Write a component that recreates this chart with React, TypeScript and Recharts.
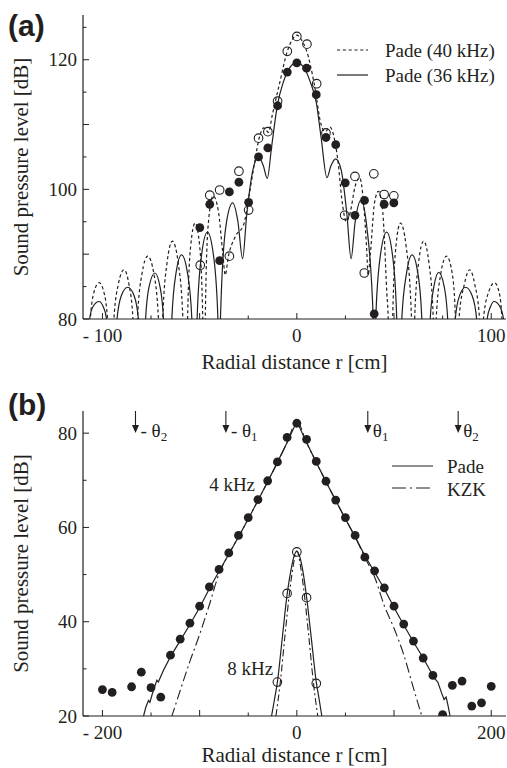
import React from "react";
import { ComposedChart, Line, Scatter, XAxis, YAxis, Legend } from "recharts";

const INK = "#231f20";
const SERIF = '"Liberation Serif", "DejaVu Serif", "Noto Serif", serif';
const SANS = '"Liberation Sans", Arial, Helvetica, sans-serif';

type Pt = [number, number];
const rows = (pts: Pt[]) => pts.map(([r, db]) => ({ r, db }));

// ---------- panel (a): 36 / 40 kHz radial profiles
const A_XDOMAIN = [-110, 107.6];
const A_YDOMAIN = [80, 126.9];
const aXTicks = [-100, -75, -50, -25, 0, 25, 50, 75, 100];
const aXLabels: Record<string, string> = { "-100": "- 100", "0": "0", "100": "100" };
const aYTicksLeft = [80, 85, 90, 95, 100, 105, 110, 115, 120, 125];
const aYTicksRight = [80, 90, 100, 110, 120];
const aYLabels: Record<string, string> = { "80": "80", "100": "100", "120": "120" };

const pade40: Pt[] = [
  [-109.5, 50], [-106.2, 80], [-104.3, 84.2], [-101.7, 85.6], [-99.3, 84.2], [-97.4, 80], [-95.7, 50],
  [-94.1, 80], [-91.8, 85.4], [-88.9, 87.6], [-86.4, 85.4], [-84.3, 80], [-83.2, 50],
  [-82, 80], [-79.7, 86.9], [-76.7, 89.7], [-73.5, 86.9], [-71.2, 80], [-70.1, 50],
  [-69, 80], [-66.8, 88.6], [-64, 92], [-61, 88.6], [-58.6, 80], [-57.4, 50],
  [-56.2, 80], [-54.6, 91.3], [-52.3, 94.8], [-50, 91.3], [-48.4, 80], [-47.8, 50],
  [-47.1, 80], [-45.6, 94.5], [-43, 99], [-40.3, 96.5], [-38.2, 90.5], [-36.8, 86.8], [-35.3, 89.5],
  [-31.5, 92.8], [-27.4, 94.5], [-24.3, 99.5], [-21.8, 104], [-19.3, 108], [-17, 109.5], [-14.6, 108.8],
  [-12.6, 111.5], [-9, 116.2], [-5, 121.2], [-2.5, 123], [0, 123.8],
  [2.5, 123], [5, 121.4], [9, 116.2], [12.5, 110], [14.6, 108.9], [17.1, 109.6], [19.5, 107.5],
  [21.3, 104], [23.1, 98.6], [25.5, 95], [27.5, 96.5], [30, 100.5], [32.3, 101.8], [34.3, 98],
  [35.8, 91.5], [36.7, 86.8], [37.8, 90], [40, 98], [42, 99.7], [44.2, 96.5], [46.3, 84], [47, 80], [47.8, 50],
  [49.3, 80], [51, 91.3], [53.3, 94.8], [56.2, 91.3], [59, 80], [59.8, 50],
  [60.6, 80], [62.6, 88.6], [65.2, 92], [68, 88.6], [70.2, 80], [70.9, 50],
  [71.7, 80], [74, 86.9], [77, 89.7], [80, 86.9], [81.6, 80], [82.4, 50],
  [83.4, 80], [86.2, 85.4], [88.9, 87.6], [91.5, 85.4], [94, 80], [94.9, 50],
  [96, 80], [98.7, 84.2], [101.7, 85.6], [104, 84.2], [105.5, 80], [106.5, 50],
];

const pade36: Pt[] = [
  [-109, 50], [-106.6, 80], [-104.9, 81.9], [-101.7, 82.7], [-99.6, 81.9], [-97.9, 80], [-95.5, 50],
  [-92.5, 80], [-90.3, 83.6], [-87, 84.9], [-83.7, 83.6], [-81.5, 80], [-80, 50],
  [-77.8, 80], [-76, 85], [-73, 87.1], [-70.4, 85], [-68.6, 80], [-66.3, 50],
  [-64.3, 80], [-62.2, 87], [-59.3, 89.9], [-56.2, 87], [-54, 80], [-52.6, 50],
  [-51.3, 80], [-49.2, 89.4], [-46, 93.4], [-42.7, 89.4], [-40.6, 80], [-40, 50],
  [-39.3, 80], [-36.5, 94.3], [-33, 97.9], [-30.3, 95], [-27.9, 89.3], [-25.8, 96], [-22.6, 103],
  [-19.7, 105], [-17.2, 103.6], [-15.2, 101.7], [-13, 106.5], [-10, 113], [-7, 116.5], [-4, 118.6], [0, 119.6],
  [4, 118.6], [7, 116.5], [10, 113.4], [12.5, 108], [15.5, 101.8], [17.5, 103.6], [20, 104.7],
  [22.8, 103], [25.8, 96], [27.9, 89.3], [30, 95], [33, 98.3], [36, 94.2], [39.3, 80], [40, 50],
  [40.6, 80], [42.8, 89.4], [46.2, 93.4], [49.4, 89.4], [51.4, 80], [52.6, 50],
  [54, 80], [56.4, 87], [59.3, 89.9], [62.3, 87], [64.3, 80], [66.3, 50],
  [68.6, 80], [70.5, 85], [73, 87.2], [75.8, 85], [77.6, 80], [80, 50],
  [81.5, 80], [83.7, 83.6], [86.8, 84.9], [90.2, 83.6], [92.5, 80], [95.5, 50],
  [97.9, 80], [99.6, 81.9], [101.4, 82.7], [104.5, 81.9], [106.3, 80], [108.5, 50],
];

const meas40: Pt[] = [
  [-49.7, 88.3], [-44.8, 99.1], [-39.7, 99.9], [-34.7, 89.7], [-29.8, 102.8], [-24.8, 96.8],
  [-19.7, 107.9], [-14.9, 108.9], [-9.9, 113.6], [-4.9, 121.3], [0, 123.6], [5.2, 122.4],
  [10.2, 116.3], [15, 108.7], [24.6, 96.0], [29.9, 102.0], [34.7, 87.1], [39.6, 102.4],
  [44.9, 99.2], [49.9, 99.0],
];

const meas36: Pt[] = [
  [-49.9, 94.1], [-44.8, 97.7], [-39.7, 89.0], [-34.7, 99.6], [-29.8, 101.1], [-24.8, 98.0],
  [-19.7, 105.0], [-14.9, 106.4], [-9.9, 112.9], [-4.9, 118.1], [0, 119.5], [5, 118.7],
  [10, 114.6], [15, 108.0], [20, 106.9], [24.9, 101.0], [29.9, 96.0], [34.8, 98.3],
  [39.8, 80.8], [44.9, 97.7], [49.9, 97.9],
];

// ---------- panel (b): 4 / 8 kHz, Pade vs KZK
const B_XDOMAIN = [-220, 215.2];
const B_YDOMAIN = [20, 84.7];
const bXTicks = [-200, -150, -100, -50, 0, 50, 100, 150, 200];
const bXLabels: Record<string, string> = { "-200": "- 200", "0": "0", "200": "200" };
const bYTicks = [20, 30, 40, 50, 60, 70, 80];
const bYLabels: Record<string, string> = { "20": "20", "40": "40", "60": "60", "80": "80" };

const meas4k: Pt[] = [
  [-200, 25.6], [-190, 25.0], [-170, 26.2], [-160, 29.3], [-150, 26.0], [-140, 24.0],
  [-130, 32.9], [-120, 36.3], [-110, 39.7], [-100, 43.3], [-90, 47.4], [-80, 51.1],
  [-70, 54.6], [-60, 58.3], [-50, 62.1], [-40, 65.9], [-30, 69.9], [-20, 73.9], [-10, 79.1],
  [0, 82.1], [10, 78.7], [20, 74.0], [30, 69.8], [40, 65.8], [50, 62.1], [60, 58.3],
  [70, 53.7], [80, 50.8], [90, 47.2], [100, 43.3], [110, 39.5], [120, 35.9], [130, 32.3],
  [140, 28.6], [150, 20.3], [160, 26.5], [170, 27.4], [180, 22.1], [190, 22.8], [200, 26.3],
];

const meas8k: Pt[] = [[-20, 27.2], [-10, 46.0], [0, 54.8], [10, 45.1], [20, 26.9]];

const pade4k: Pt[] = [
  [-157.7, 20], [-155.3, 21.9], [-152.6, 23.3], [-151.2, 22.9], [-149.1, 24.4], [-146.7, 26],
  [-144, 27.6], [-142.5, 27.2], [-137.2, 29.7], [-130, 32.6], [-120, 36], [-110, 39.4],
  [-100, 43], [-90, 47], [-80, 50.7], [-70, 54.3], [-60, 58], [-50, 61.8], [-40, 65.7],
  [-30, 69.7], [-20, 73.8], [-10, 78], [0, 82.5], [10, 78], [20, 73.8], [30, 69.7],
  [40, 65.7], [50, 61.8], [60, 58], [70, 54], [80, 50.5], [90, 47], [100, 43],
  [110, 39.3], [120, 35.7], [130, 32.3], [137, 29.7], [140.5, 28.3], [145, 27.2],
  [149.1, 24.8], [151.5, 23.5], [153.6, 24], [155.9, 21.9], [157.6, 20],
];

const kzk4k: Pt[] = [
  [-129, 19.7], [-120, 25.4], [-110, 31.6], [-100, 37.3], [-90, 43.6], [-80, 50.2],
  [-70, 54.3], [-60, 58], [-50, 61.8], [-40, 65.7], [-30, 69.7], [-20, 73.8], [-10, 78],
  [0, 82.5], [10, 78], [20, 73.8], [30, 69.7], [40, 65.7], [50, 61.8], [60, 58],
  [70, 53.6], [80, 49.5], [90, 43.4], [100, 38.6], [110, 33], [120, 25.9], [129, 19.7],
];

const pade8k: Pt[] = [
  [-26, 20], [-23, 23.5], [-20, 27.2], [-15, 36.5], [-10, 45.8], [-6, 51], [-3, 53.8],
  [0, 55], [3, 53.8], [6, 51], [10, 45.3], [15, 36.3], [20, 27.2], [23, 23.5], [25.7, 20],
];

const kzk8k: Pt[] = [
  [-21.5, 20], [-17, 27.2], [-12, 37.5], [-7.6, 46], [-4, 51.5], [0, 55],
  [4, 51.5], [7.6, 46], [12, 37.5], [17, 27.2], [21.5, 20],
];

const thetaMarks = [
  { r: -166, db: 84.7, name: "- θ", sub: "2" },
  { r: -73, db: 84.7, name: "- θ", sub: "1" },
  { r: 73, db: 84.7, name: "θ", sub: "1" },
  { r: 166, db: 84.7, name: "θ", sub: "2" },
];

const freqLabels = [
  { r: -43, db: 67.7, text: "4 kHz" },
  { r: -24.4, db: 28.6, text: "8 kHz" },
];

// ---------- shared bits
const DOTTED = "3.2 2.6";
const DASHDOT = "10 3.5 2 3.5";
const serifStyle = { fontFamily: SERIF };
const txt = { style: serifStyle, fontSize: 19, fill: INK };

const xTick = (labels: Record<string, string>, major: number, top: boolean) => (p: any) => {
  const v = p.payload.value;
  const len = v % major === 0 ? 6 : 3.5;
  const lab = labels[String(v)];
  return (
    <g>
      <line x1={p.x} x2={p.x} y1={p.y} y2={top ? p.y + len : p.y - len} stroke={INK} strokeWidth={1} />
      {!top && lab !== undefined && (
        <text x={p.x} y={p.y + 23} textAnchor="middle" {...txt}>{lab}</text>
      )}
    </g>
  );
};

const yTick = (labels: Record<string, string>, major: number, right: boolean) => (p: any) => {
  const v = p.payload.value;
  const len = v % major === 0 ? 6 : 3.5;
  const lab = labels[String(v)];
  return (
    <g>
      <line x1={p.x} x2={right ? p.x - len : p.x + len} y1={p.y} y2={p.y} stroke={INK} strokeWidth={1} />
      {!right && lab !== undefined && (
        <text x={p.x - 6} y={p.y + 6.5} textAnchor="end" {...txt}>{lab}</text>
      )}
    </g>
  );
};

const xTitle = (dy: number) => (p: any) => {
  const vb = p.viewBox;
  return (
    <text x={vb.x + vb.width / 2} y={vb.y + dy} textAnchor="middle" style={serifStyle} fontSize={21} fill={INK}>
      Radial distance r [cm]
    </text>
  );
};

const yTitle = (p: any) => {
  const vb = p.viewBox;
  const cy = vb.y + vb.height / 2;
  return (
    <text x={28} y={cy} transform={`rotate(-90, 28, ${cy})`} textAnchor="middle" style={serifStyle} fontSize={21} fill={INK}>
      Sound pressure level [dB]
    </text>
  );
};

const filledDot = (p: any) => <circle cx={p.cx} cy={p.cy} r={4.4} fill={INK} />;
const openDot = (p: any) => <circle cx={p.cx} cy={p.cy} r={4.3} fill="none" stroke={INK} strokeWidth={1.1} />;

const arrowShape = (p: any) => (
  <g>
    <line x1={p.cx} x2={p.cx} y1={p.cy} y2={p.cy + 16} stroke={INK} strokeWidth={1.1} />
    <polygon points={`${p.cx - 3.5},${p.cy + 14} ${p.cx + 3.5},${p.cy + 14} ${p.cx},${p.cy + 22}`} fill={INK} />
    <text x={p.cx + 5} y={p.cy + 26} {...txt}>
      {p.payload.name}
      <tspan dy={4} fontSize={13}>{p.payload.sub}</tspan>
    </text>
  </g>
);

const freqShape = (p: any) => (
  <text x={p.cx} y={p.cy} textAnchor="end" {...txt}>{p.payload.text}</text>
);

const legendA = () => (
  <svg width={180} height={52}>
    <line x1={7} x2={38} y1={12} y2={12} stroke={INK} strokeWidth={1.2} strokeDasharray={DOTTED} />
    <text x={55} y={19} {...txt}>Pade (40 kHz)</text>
    <line x1={7} x2={38} y1={37} y2={37} stroke={INK} strokeWidth={1.2} />
    <text x={55} y={44} {...txt}>Pade (36 kHz)</text>
  </svg>
);

const legendB = () => (
  <svg width={120} height={50}>
    <line x1={7} x2={48} y1={12} y2={12} stroke={INK} strokeWidth={1.2} />
    <text x={62} y={19} {...txt}>Pade</text>
    <line x1={7} x2={48} y1={34} y2={34} stroke={INK} strokeWidth={1.2} strokeDasharray="14 4 2 4" />
    <text x={62} y={42} {...txt}>KZK</text>
  </svg>
);

const panelLabel = (s: string, top: number) => (
  <svg style={{ position: "absolute", left: 0, top }} width={60} height={50}>
    <text x={8} y={36} style={{ fontFamily: SANS }} fontWeight="bold" fontSize={30} fill={INK}>{s}</text>
  </svg>
);

export default function App() {
  const axisLine = { stroke: INK, strokeWidth: 1.2 };
  return (
    <div style={{ position: "absolute", left: 0, top: 0, width: 507, height: 768, background: "#fff" }}>
      <div style={{ position: "absolute", left: 0, top: 0 }}>
        <ComposedChart width={507} height={384} margin={{ top: 15, right: 1, bottom: 0, left: 0 }}>
          <XAxis xAxisId="b" dataKey="r" type="number" domain={A_XDOMAIN} allowDataOverflow ticks={aXTicks}
            interval={0} height={65} tickSize={0} tickMargin={0} axisLine={axisLine} tickLine={false}
            tick={xTick(aXLabels, 50, false)} label={xTitle(50)} />
          <XAxis xAxisId="t" orientation="top" dataKey="r" type="number" domain={A_XDOMAIN} allowDataOverflow
            ticks={aXTicks} interval={0} height={0} tickSize={0} tickMargin={0} axisLine={axisLine} tickLine={false}
            tick={xTick(aXLabels, 50, true)} />
          <YAxis yAxisId="l" dataKey="db" type="number" domain={A_YDOMAIN} allowDataOverflow ticks={aYTicksLeft}
            interval={0} width={83} tickSize={0} tickMargin={0} axisLine={axisLine} tickLine={false}
            tick={yTick(aYLabels, 10, false)} label={yTitle} />
          <YAxis yAxisId="r" orientation="right" dataKey="db" type="number" domain={A_YDOMAIN} allowDataOverflow
            ticks={aYTicksRight} interval={0} width={0} tickSize={0} tickMargin={0} axisLine={axisLine}
            tickLine={false} tick={yTick(aYLabels, 10, true)} />
          <Line xAxisId="b" yAxisId="l" data={rows(pade40)} dataKey="db" type="monotone" stroke={INK}
            strokeWidth={1.2} strokeDasharray={DOTTED} dot={false} isAnimationActive={false} />
          <Line xAxisId="b" yAxisId="l" data={rows(pade36)} dataKey="db" type="monotone" stroke={INK}
            strokeWidth={1.2} dot={false} isAnimationActive={false} />
          <Scatter xAxisId="b" yAxisId="l" data={rows(meas40)} dataKey="db" shape={openDot} isAnimationActive={false} />
          <Scatter xAxisId="b" yAxisId="l" data={rows(meas36)} dataKey="db" shape={filledDot} isAnimationActive={false} />
          <Legend layout="vertical" align="center" verticalAlign="middle" content={legendA}
            wrapperStyle={{ left: 330, top: 38, width: 180 }} />
        </ComposedChart>
        {panelLabel("(a)", 0)}
      </div>
      <div style={{ position: "absolute", left: 0, top: 384 }}>
        <ComposedChart width={507} height={384} margin={{ top: 27, right: 1, bottom: 0, left: 0 }}>
          <XAxis xAxisId="b" dataKey="r" type="number" domain={B_XDOMAIN} allowDataOverflow ticks={bXTicks}
            interval={0} height={52} tickSize={0} tickMargin={0} axisLine={axisLine} tickLine={false}
            tick={xTick(bXLabels, 100, false)} label={xTitle(46)} />
          <XAxis xAxisId="t" orientation="top" dataKey="r" type="number" domain={B_XDOMAIN} allowDataOverflow
            ticks={bXTicks} interval={0} height={0} tickSize={0} tickMargin={0} axisLine={axisLine} tickLine={false}
            tick={xTick(bXLabels, 100, true)} />
          <YAxis yAxisId="l" dataKey="db" type="number" domain={B_YDOMAIN} allowDataOverflow ticks={bYTicks}
            interval={0} width={83} tickSize={0} tickMargin={0} axisLine={axisLine} tickLine={false}
            tick={yTick(bYLabels, 20, false)} label={yTitle} />
          <YAxis yAxisId="r" orientation="right" dataKey="db" type="number" domain={B_YDOMAIN} allowDataOverflow
            ticks={bYTicks} interval={0} width={0} tickSize={0} tickMargin={0} axisLine={axisLine}
            tickLine={false} tick={yTick(bYLabels, 20, true)} />
          <Line xAxisId="b" yAxisId="l" data={rows(kzk4k)} dataKey="db" type="monotone" stroke={INK}
            strokeWidth={1.1} strokeDasharray={DASHDOT} dot={false} isAnimationActive={false} />
          <Line xAxisId="b" yAxisId="l" data={rows(pade4k)} dataKey="db" type="linear" stroke={INK}
            strokeWidth={1.2} dot={false} isAnimationActive={false} />
          <Line xAxisId="b" yAxisId="l" data={rows(kzk8k)} dataKey="db" type="monotone" stroke={INK}
            strokeWidth={1.1} strokeDasharray="7 3 2 3" dot={false} isAnimationActive={false} />
          <Line xAxisId="b" yAxisId="l" data={rows(pade8k)} dataKey="db" type="monotone" stroke={INK}
            strokeWidth={1.2} dot={false} isAnimationActive={false} />
          <Scatter xAxisId="b" yAxisId="l" data={rows(meas4k)} dataKey="db" shape={filledDot} isAnimationActive={false} />
          <Scatter xAxisId="b" yAxisId="l" data={rows(meas8k)} dataKey="db" shape={openDot} isAnimationActive={false} />
          <Scatter xAxisId="b" yAxisId="l" data={thetaMarks} dataKey="db" shape={arrowShape} isAnimationActive={false} />
          <Scatter xAxisId="b" yAxisId="l" data={freqLabels} dataKey="db" shape={freqShape} isAnimationActive={false} />
          <Legend layout="vertical" align="center" verticalAlign="middle" content={legendB}
            wrapperStyle={{ left: 385, top: 70, width: 120 }} />
        </ComposedChart>
        {panelLabel("(b)", -5)}
      </div>
    </div>
  );
}
